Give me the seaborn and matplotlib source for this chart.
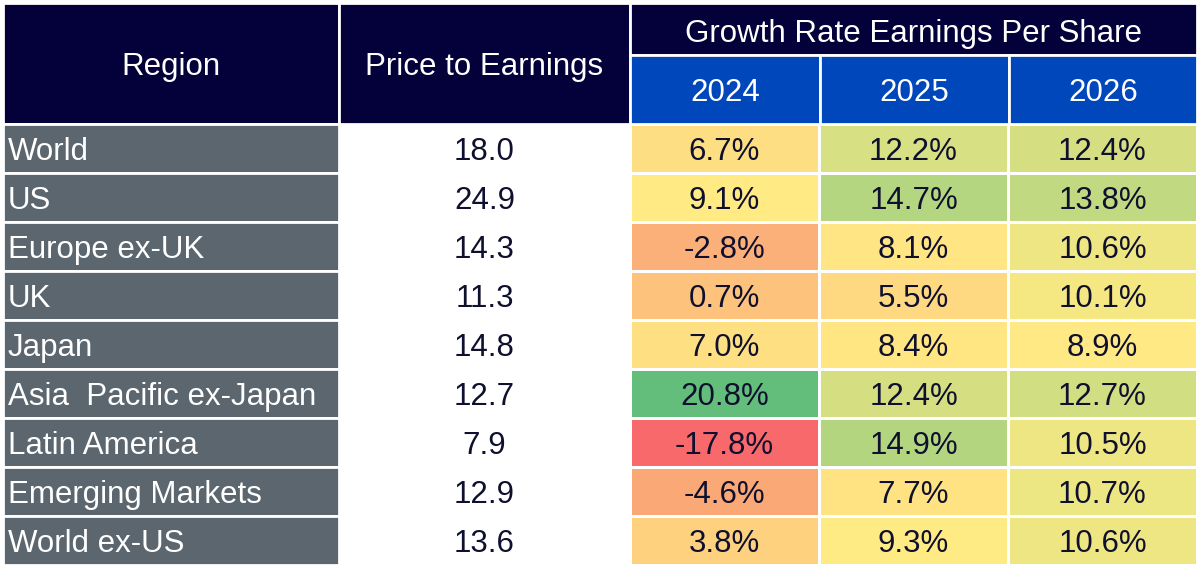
import numpy as np
import pandas as pd
import matplotlib
matplotlib.use("Agg")
import matplotlib.pyplot as plt
import seaborn as sns
from matplotlib.colors import LinearSegmentedColormap, TwoSlopeNorm
from matplotlib.patches import Rectangle

# ---- data ----
regions = ["World", "US", "Europe ex-UK", "UK", "Japan", "Asia  Pacific ex-Japan",
           "Latin America", "Emerging Markets", "World ex-US"]
pe_ratio = [18.0, 24.9, 14.3, 11.3, 14.8, 12.7, 7.9, 12.9, 13.6]
years = ["2024", "2025", "2026"]
eps_2024 = [6.7, 9.1, -2.8, 0.7, 7.0, 20.8, -17.8, -4.6, 3.8]
eps_2025 = [12.2, 14.7, 8.1, 5.5, 8.4, 12.4, 14.9, 7.7, 9.3]
eps_2026 = [12.4, 13.8, 10.6, 10.1, 8.9, 12.7, 10.5, 10.7, 10.6]
header_region = "Region"
header_pe = "Price to Earnings"
header_growth = "Growth Rate Earnings Per Share"

sns.set_theme(style="white")
plt.rcParams["font.family"] = ["Liberation Sans", "DejaVu Sans"]

W, H = 1200, 567
fig = plt.figure(figsize=(12, 5.67), dpi=100)

# layout (pixels)
col_edges = [3, 339, 630, 820, 1009, 1197]
head_top, head_mid, head_bot = 3, 55, 124
table_bot = 565
n = len(regions)
row_h = (table_bot - head_bot) / n

NAVY = "#03003A"
BLUE = "#0047BB"
GRAY = "#5B666E"
TXT = "#0F0F2E"
FS = 22.5
CAP = FS * 100 / 72 * 0.716 / 2  # half cap-height in pixels

bg = fig.add_axes([0, 0, 1, 1])
bg.set_xlim(0, W)
bg.set_ylim(H, 0)
bg.axis("off")

def cell(x0, x1, y0, y1, fc):
    bg.add_patch(Rectangle((x0, y0), x1 - x0, y1 - y0, facecolor=fc,
                           edgecolor="white", linewidth=2))

def label(x, yc, s, color, ha="center"):
    bg.text(x, yc + CAP, s, color=color, fontsize=FS, ha=ha, va="baseline")

# header
cell(col_edges[0], col_edges[1], head_top, head_bot, NAVY)
cell(col_edges[1], col_edges[2], head_top, head_bot, NAVY)
cell(col_edges[2], col_edges[5], head_top, head_mid, NAVY)
for j in range(3):
    cell(col_edges[2 + j], col_edges[3 + j], head_mid, head_bot, BLUE)
    label((col_edges[2 + j] + col_edges[3 + j]) / 2, (head_mid + head_bot) / 2,
          years[j], "white")
label((col_edges[0] + col_edges[1]) / 2, (head_top + head_bot) / 2, header_region, "white")
label((col_edges[1] + col_edges[2]) / 2, (head_top + head_bot) / 2, header_pe, "white")
label((col_edges[2] + col_edges[5]) / 2, (head_top + head_mid) / 2 + 2, header_growth, "white")

# region & P/E columns
for i, (r, pe) in enumerate(zip(regions, pe_ratio)):
    y0 = head_bot + i * row_h
    y1 = y0 + row_h
    cell(col_edges[0], col_edges[1], y0, y1, GRAY)
    label(col_edges[0] + 5, (y0 + y1) / 2, r, "white", ha="left")
    label((col_edges[1] + col_edges[2]) / 2, (y0 + y1) / 2, f"{pe:.1f}", TXT)

# growth heatmap (Excel-style 3-colour scale)
growth = pd.DataFrame({years[0]: eps_2024, years[1]: eps_2025, years[2]: eps_2026},
                      index=regions)
vals = growth.values.ravel()
cmap = LinearSegmentedColormap.from_list("rdylgn_xl", ["#F8696B", "#FFEB84", "#63BE7B"])
norm = TwoSlopeNorm(vmin=vals.min(), vcenter=float(np.median(vals)), vmax=vals.max())
annot = growth.map(lambda v: f"{v:.1f}%").values

hm = fig.add_axes([col_edges[2] / W, (H - table_bot) / H,
                   (col_edges[5] - col_edges[2]) / W, (table_bot - head_bot) / H])
sns.heatmap(growth, ax=hm, cmap=cmap, norm=norm, annot=annot, fmt="",
            cbar=False, linewidths=2, linecolor="white",
            annot_kws={"fontsize": FS, "color": TXT})
hm.set_xticks([])
hm.set_yticks([])
hm.set_xlabel("")
hm.set_ylabel("")
for t in hm.texts:
    x, y = t.get_position()
    t.set_va("baseline")
    t.set_y(y + CAP / row_h)

fig.savefig("out.png", dpi=100, facecolor="white")
